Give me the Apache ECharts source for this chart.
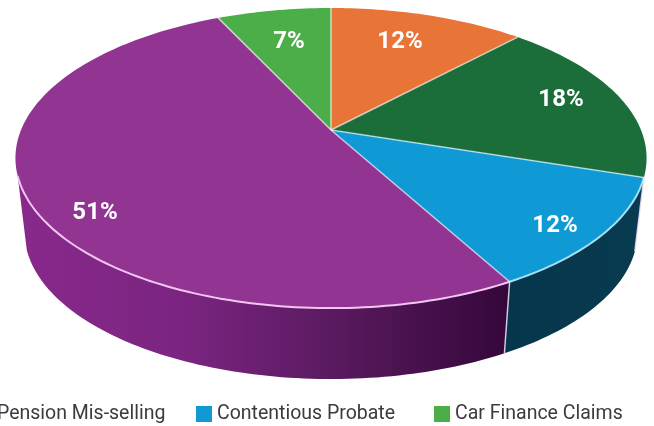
<!DOCTYPE html>
<html>
<head>
<meta charset="utf-8">
<style>
  html, body { margin: 0; padding: 0; background: #fff; overflow: hidden; }
  #chart { width: 654px; height: 426px; }
</style>
<script src="https://cdn.jsdelivr.net/npm/echarts@6/dist/echarts.min.js"></script>
</head>
<body>
<div id="chart"></div>
<script>
// clockwise from 12 o'clock; the first two names are cropped out of the picture
const categories = ["Orange slice", "Dark green slice", "Contentious Probate", "Pension Mis-selling", "Car Finance Claims"];
const values = [12, 18, 12, 51, 7];
const topColors = ["#e97437", "#1b6d3a", "#0f9ad6", "#913492", "#4cae49"];
const rimColors = ["#e97437", "#1b6d3a", "#a5def5", "#f3c6f2", "#4cae49"];

const chart = echarts.init(document.getElementById("chart"));

const total = values.reduce((a, b) => a + b, 0);
const toAngle = share => share / total * Math.PI * 2;

// tilted disc: circle seen in perspective, so the apex sits above the ellipse centre
const K = 0.187;
const topRim = { cx: 331, cy: 130, a: 310, b: 144.8 };
const bottomRim = { cx: 331, cy: 205, a: 301, b: 141.5 };
const project = (t, rim) => {
  const q = Math.sin(t);
  const p = -Math.cos(t);
  const w = 1 - K * p;
  return [rim.cx + rim.a * q / w, rim.cy + rim.b * p / w];
};
const arc = (from, to, rim) => {
  const pts = [];
  const n = Math.max(2, Math.ceil((to - from) / 0.02));
  for (let i = 0; i <= n; i++) {
    pts.push(project(from + (to - from) * i / n, rim));
  }
  return pts;
};

// only this part of the side wall is drawn
const FRONT_FROM = Math.acos(-0.3);
const FRONT_TO = Math.PI * 2 - FRONT_FROM;

const wallFills = [
  null,
  null,
  new echarts.graphic.LinearGradient(0, 0, 1, 0, [
    { offset: 0, color: "#06364c" },
    { offset: 1, color: "#083a50" }
  ]),
  new echarts.graphic.LinearGradient(0, 0, 1, 0, [
    { offset: 0, color: "#88298c" },
    { offset: 0.35, color: "#7a2480" },
    { offset: 0.62, color: "#5c1b62" },
    { offset: 0.85, color: "#440f49" },
    { offset: 1, color: "#34073a" }
  ]),
  null
];

// label spots
const labelSpots = [[400, 42], [561, 100], [555, 226], [95, 213], [289, 42]];

function sliceRenderer(index) {
  return function (params, api) {
    const before = values.slice(0, index).reduce((a, b) => a + b, 0);
    const from = toAngle(before);
    const to = from + toAngle(api.value(0));
    const children = [];

    // side wall
    const wFrom = Math.max(from, FRONT_FROM);
    const wTo = Math.min(to, FRONT_TO);
    const hasWall = wTo > wFrom && wallFills[index];
    if (hasWall) {
      children.push({
        type: "polygon",
        shape: { points: arc(wFrom, wTo, topRim).concat(arc(wFrom, wTo, bottomRim).reverse()) },
        style: { fill: wallFills[index] },
        z2: 1
      });
      if (wFrom === from) {
        children.push({
          type: "polyline",
          shape: { points: [project(from, topRim), project(from, bottomRim)] },
          style: { fill: null, stroke: "rgba(235,225,245,0.85)", lineWidth: 1.5 },
          z2: 6
        });
      }
    }

    // top face
    children.push({
      type: "polygon",
      shape: { points: [[topRim.cx, topRim.cy]].concat(arc(from, to, topRim)) },
      style: { fill: topColors[index] },
      z2: 3
    });

    // front rim highlight
    if (hasWall) {
      children.push({
        type: "polyline",
        shape: { points: arc(wFrom, wTo, topRim) },
        style: { fill: null, stroke: rimColors[index], lineWidth: 2 },
        z2: 5
      });
    }

    // divider to the next slice
    children.push({
      type: "polyline",
      shape: { points: [[topRim.cx, topRim.cy], project(from, topRim)] },
      style: { fill: null, stroke: "rgba(255,255,255,0.6)", lineWidth: 1.6 },
      z2: 6
    });

    children.push({
      type: "text",
      style: {
        text: api.value(0) + "%",
        x: labelSpots[index][0],
        y: labelSpots[index][1],
        fill: "#fff",
        font: "700 24px Roboto",
        align: "center",
        verticalAlign: "middle"
      },
      z2: 10
    });

    return { type: "group", children: children };
  };
}

const legendStyle = {
  top: 404,
  padding: 0,
  icon: "rect",
  itemWidth: 16,
  itemHeight: 16,
  selectedMode: false,
  textStyle: { fontFamily: "Roboto", fontSize: 19.5, color: "#3a3a40", padding: 0 }
};

chart.setOption({
  backgroundColor: "#fff",
  animation: false,
  tooltip: { show: false },
  legend: [
    Object.assign({ left: -24, data: ["Pension Mis-selling"] }, legendStyle),
    Object.assign({ left: 196, data: ["Contentious Probate"] }, legendStyle),
    Object.assign({ left: 434, data: ["Car Finance Claims"] }, legendStyle)
  ],
  series: categories.map((name, i) => ({
    type: "custom",
    name: name,
    coordinateSystem: "none",
    silent: true,
    itemStyle: { color: topColors[i] },
    renderItem: sliceRenderer(i),
    data: [values[i]]
  }))
});
</script>
</body>
</html>
